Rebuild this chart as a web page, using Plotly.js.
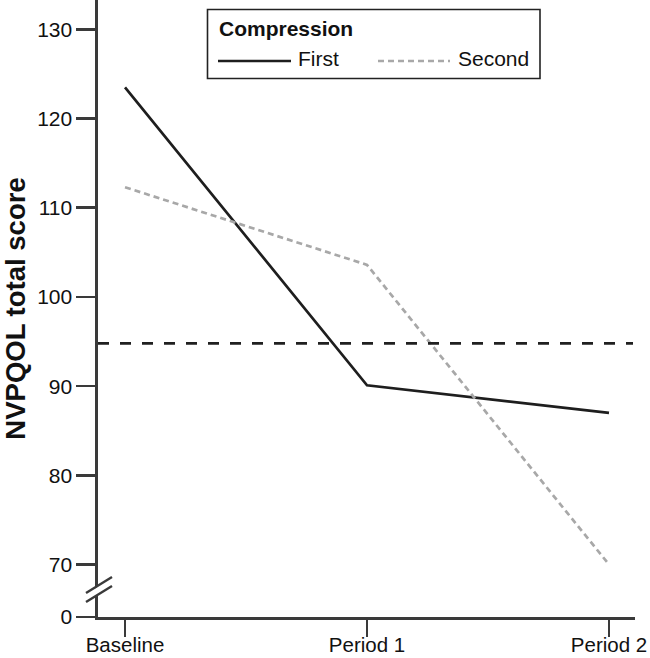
<!DOCTYPE html>
<html>
<head>
<meta charset="utf-8">
<script src="https://cdn.plot.ly/plotly-3.0.1.min.js"></script>
<style>html,body{margin:0;padding:0;background:#fff;}#chart{width:650px;height:658px;}</style>
</head>
<body>
<div id="chart"></div>
<script>
// ---- data ----
var categories = ['Baseline', 'Period 1', 'Period 2'];
var firstScores = [123.5, 90.1, 87.0];
var secondScores = [112.3, 103.6, 70.0];
var referenceScore = 94.8;
var yTickValues = [70, 80, 90, 100, 110, 120, 130];
var yTickLabels = ['70', '80', '90', '100', '110', '120', '130'];
var seriesNames = ['First', 'Second'];
var legendTitle = 'Compression';
var yTitle = 'NVPQOL total score';

// ---- layout geometry (pixels) ----
var W = 650, H = 658;
var M = {l: 98, r: 15, t: 0, b: 41};
var plotW = W - M.l - M.r, plotH = H - M.t - M.b;
// broken axis: the "0" tick sits below 70 at the axis bottom
var yBottom = 64.12, yTop = 133.29;
var tickVals = [yBottom].concat(yTickValues);
var tickText = ['0'].concat(yTickLabels);

function px(x) { return (x - M.l) / plotW; }
function py(y) { return (H - M.b - y) / plotH; }

var FONT = '"Liberation Sans", Arial, Helvetica, sans-serif';
var AXC = '#3a3a3a';
var C1 = '#1e1e1e', C2 = '#a8a8a8';

var traces = [
  {x: categories, y: firstScores, type: 'scatter', mode: 'lines', name: seriesNames[0],
   line: {color: C1, width: 2.7}, showlegend: false, hoverinfo: 'x+y'},
  {x: categories, y: secondScores, type: 'scatter', mode: 'lines', name: seriesNames[1],
   line: {color: C2, width: 2.7, dash: '6px,4px'}, showlegend: false, hoverinfo: 'x+y'}
];

var shapes = [
  // reference line
  {type: 'line', xref: 'paper', yref: 'y', x0: 0, x1: px(633), y0: referenceScore, y1: referenceScore,
   line: {color: '#202020', width: 2.8, dash: '11px,11px'}},
  // axis break gap
  {type: 'path', xref: 'paper', yref: 'paper',
   path: 'M ' + px(92) + ' ' + py(590.5) + ' L ' + px(104) + ' ' + py(582.5) + ' L ' + px(104) + ' ' + py(591) + ' L ' + px(92) + ' ' + py(599) + ' Z',
   fillcolor: '#ffffff', line: {width: 0}},
  {type: 'line', xref: 'paper', yref: 'paper', x0: px(86), y0: py(593), x1: px(112), y1: py(577),
   line: {color: AXC, width: 2.4}},
  {type: 'line', xref: 'paper', yref: 'paper', x0: px(86), y0: py(602), x1: px(112), y1: py(586),
   line: {color: AXC, width: 2.4}},
  // legend box
  {type: 'rect', xref: 'paper', yref: 'paper', x0: px(207.5), x1: px(540), y0: py(9.5), y1: py(78.5),
   line: {color: '#222', width: 1.6}, fillcolor: 'rgba(255,255,255,0)'},
  // legend samples
  {type: 'line', xref: 'paper', yref: 'paper', x0: px(218), x1: px(291), y0: py(61), y1: py(61),
   line: {color: C1, width: 2.7}},
  {type: 'line', xref: 'paper', yref: 'paper', x0: px(378), x1: px(450), y0: py(61), y1: py(61),
   line: {color: C2, width: 2.7, dash: '6px,4px'}}
];

var annotations = [
  {xref: 'paper', yref: 'paper', x: px(217), y: py(29), xanchor: 'left', yanchor: 'middle', showarrow: false,
   text: '<b>' + legendTitle + '</b>', font: {family: FONT, size: 21, color: '#111'}},
  {xref: 'paper', yref: 'paper', x: px(296), y: py(59), xanchor: 'left', yanchor: 'middle', showarrow: false,
   text: seriesNames[0], font: {family: FONT, size: 21, color: '#111'}},
  {xref: 'paper', yref: 'paper', x: px(456), y: py(59), xanchor: 'left', yanchor: 'middle', showarrow: false,
   text: seriesNames[1], font: {family: FONT, size: 21, color: '#111'}}
];

var layout = {
  width: W, height: H,
  margin: M,
  paper_bgcolor: '#ffffff', plot_bgcolor: '#ffffff',
  font: {family: FONT, size: 21, color: '#111'},
  showlegend: false,
  xaxis: {
    type: 'category', range: [-0.1116, 2.1074], fixedrange: true,
    showgrid: false, zeroline: false,
    showline: true, linecolor: AXC, linewidth: 2.6,
    ticks: 'outside', ticklen: 17, tickwidth: 2.6, tickcolor: AXC,
    ticklabelstandoff: -9,
    tickfont: {family: FONT, size: 20.5, color: '#111'}
  },
  yaxis: {
    range: [yBottom, yTop], fixedrange: true,
    tickmode: 'array', tickvals: tickVals, ticktext: tickText,
    showgrid: false, zeroline: false,
    showline: true, linecolor: AXC, linewidth: 2.6,
    ticks: 'outside', ticklen: 19, tickwidth: 2.6, tickcolor: AXC,
    tickfont: {family: FONT, size: 21, color: '#111'},
    title: {text: '<b>' + yTitle + '</b>', font: {family: FONT, size: 27.5, color: '#111'}, standoff: 18}
  },
  shapes: shapes,
  annotations: annotations
};

Plotly.newPlot('chart', traces, layout, {displayModeBar: false, staticPlot: true});
</script>
</body>
</html>
